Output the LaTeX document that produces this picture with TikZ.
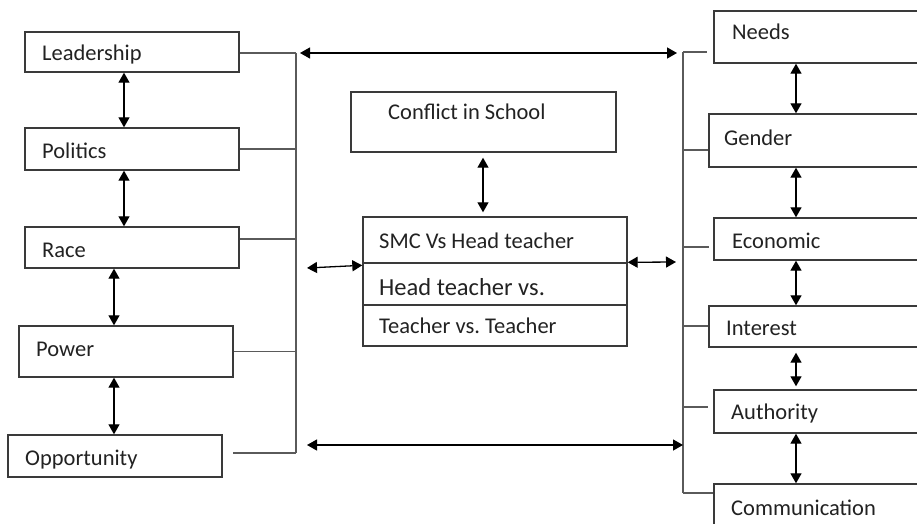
\documentclass[tikz,border=0pt]{standalone}
\usepackage{fontspec}
\setmainfont{Carlito}
\frenchspacing
\usetikzlibrary{arrows.meta,calc}
\definecolor{boxc}{HTML}{3A3A3A}
\definecolor{brc}{HTML}{5A5A5A}
\definecolor{txtc}{HTML}{222222}
\begin{document}
\begin{tikzpicture}[x=1pt,y=-1pt,
  box/.style={draw=boxc,line width=1.4pt,rectangle,inner sep=0pt,fill=white},
  lbl/.style={anchor=base west,inner sep=0pt,text=txtc,font=\fontsize{22.5}{26}\selectfont},
  arr/.style={draw=black,line width=1.3pt,{Triangle[length=10pt,width=11pt]}-{Triangle[length=10pt,width=11pt]}},
  brk/.style={draw=brc,line width=1.5pt}]
\useasboundingbox (0,0) rectangle (917,524);
\clip (0,0) rectangle (917,524);
% left column boxes
\node[box,minimum width=214pt,minimum height=40pt] (lead) at (132,52) {};
\node[box,minimum width=214pt,minimum height=42pt] (pol) at (132,149) {};
\node[box,minimum width=214pt,minimum height=41pt] (race) at (132,247.5) {};
\node[box,minimum width=214pt,minimum height=51pt] (power) at (126,351.5) {};
\node[box,minimum width=214pt,minimum height=42pt] (opp) at (115,456) {};
\node[lbl] (tlead) at (42,61) {Leadership};
\node[lbl] (tpol) at (42,158) {Politics};
\node[lbl] (trace) at (42,257) {Race};
\node[lbl] (tpower) at (36,356) {Power};
\node[lbl] (topp) at (25,465) {Opportunity};
% centre
\node[box,minimum width=265pt,minimum height=60pt] (conf) at (483.5,122) {};
\node[lbl] (tconf) at (388,120) {Conflict in School};
\node[box,minimum width=264pt,minimum height=46pt] (smc) at (495,240) {};
\node[box,minimum width=264pt,minimum height=42pt] (htv) at (495,284) {};
\node[box,minimum width=264pt,minimum height=41pt] (tvt) at (495,325.5) {};
\node[lbl] (tsmc) at (379,248) {SMC Vs Head teacher};
\node[lbl,font=\fontsize{24.5}{28}\selectfont] (thtv) at (379,295) {Head teacher vs.};
\node[lbl] (ttvt) at (379,333) {Teacher vs. Teacher};
% right column boxes
\node[box,minimum width=226pt,minimum height=52pt] (needs) at (827,37) {};
\node[box,minimum width=231pt,minimum height=53pt] (gender) at (824.5,140.5) {};
\node[box,minimum width=226pt,minimum height=42pt] (econ) at (827,239) {};
\node[box,minimum width=231pt,minimum height=41pt] (inter) at (824.5,326.5) {};
\node[box,minimum width=226pt,minimum height=43pt] (auth) at (827,411.5) {};
\node[box,minimum width=226pt,minimum height=56pt] (comm) at (827,512) {};
\node[lbl] (tneeds) at (732,40) {Needs};
\node[lbl] (tgender) at (724,145) {Gender};
\node[lbl] (tecon) at (732,248) {Economic};
\node[lbl] (tinter) at (726,335) {Interest};
\node[lbl] (tauth) at (731,419) {Authority};
\node[lbl] (tcomm) at (731,515) {Communication};
% helper coordinates
\coordinate (lc1) at (124,0);
\coordinate (lc2) at (114,0);
\coordinate (rc) at (796,0);
\coordinate (cx) at (483,0);
\coordinate (lvt) at (296,53);
\coordinate (lvb) at (296,453);
\coordinate (ob) at (233,453);
\coordinate (rvt) at (683,52);
\coordinate (rv2) at (683,150);
\coordinate (rv3) at (683,247);
\coordinate (rv4) at (683,326);
\coordinate (rv5) at (683,407);
\coordinate (rvb) at (683,493);
\coordinate (ta) at (300,53);
\coordinate (tb) at (677,53);
\coordinate (ba) at (307,445);
\coordinate (bb) at (683,445);
\coordinate (ml) at (307,268);
\coordinate (mr) at (676,262);
% left brackets
\draw[brk] (lvt) -- (lvb);
\draw[brk] (lead.east |- lvt) -- (lvt);
\draw[brk] (pol.east) -- (pol.east -| lvt);
\draw[brk] (race.east |- 0,239) -- (lvt |- 0,239);
\draw[brk] (power.east) -- (power.east -| lvt);
\draw[brk] (ob) -- (lvb);
% right brackets
\draw[brk] (rvt) -- (rvb);
\draw[brk,shorten >=6pt] (rvt) -- (rvt -| needs.west);
\draw[brk] (rv2) -- (rv2 -| gender.west);
\draw[brk,shorten >=4pt] (rv3) -- (rv3 -| econ.west);
\draw[brk] (rv4) -- (rv4 -| inter.west);
\draw[brk,shorten >=5pt] (rv5) -- (rv5 -| auth.west);
\draw[brk] (rvb) -- (rvb -| comm.west);
% vertical arrows left
\draw[arr] (lead.south -| lc1) -- (pol.north -| lc1);
\draw[arr] (pol.south -| lc1) -- (race.north -| lc1);
\draw[arr] (race.south -| lc2) -- (power.north -| lc2);
\draw[arr] (power.south -| lc2) -- (opp.north -| lc2);
% vertical arrows right
\draw[arr] (needs.south -| rc) -- (gender.north -| rc);
\draw[arr] (gender.south -| rc) -- (econ.north -| rc);
\draw[arr] (econ.south -| rc) -- (inter.north -| rc);
\draw[arr,shorten <=5pt,shorten >=3pt] (inter.south -| rc) -- (auth.north -| rc);
\draw[arr] (auth.south -| rc) -- (comm.north -| rc);
% centre arrows
\draw[arr,shorten <=5pt,shorten >=4pt] (conf.south -| cx) -- (smc.north -| cx);
\draw[arr] (ml) -- ($(htv.north west)+(0,3)$);
\draw[arr] (htv.north east) -- (mr);
\draw[arr] (ta) -- (tb);
\draw[arr] (ba) -- (bb);
\end{tikzpicture}
\end{document}
